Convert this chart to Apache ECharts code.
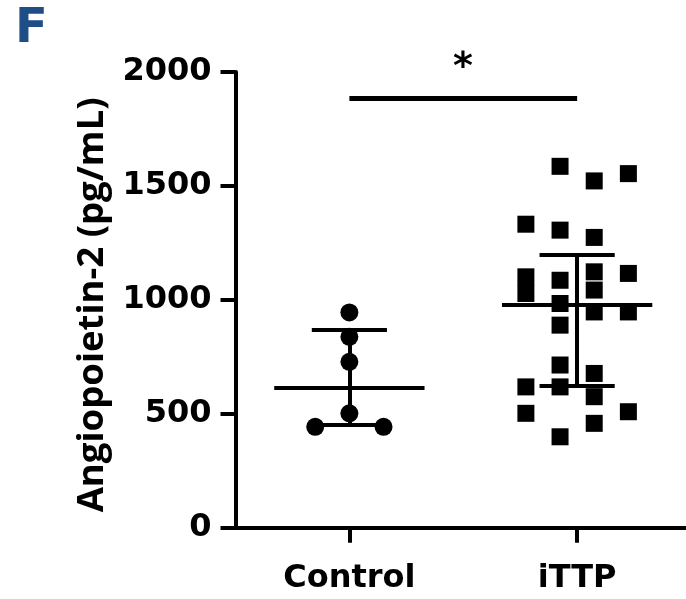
<!DOCTYPE html>
<html>
<head>
<meta charset="utf-8">
<script src="https://cdn.jsdelivr.net/npm/echarts@6/dist/echarts.min.js"></script>
<style>
html, body { margin: 0; padding: 0; background: #fff; }
#chart { width: 686px; height: 599px; }
</style>
</head>
<body>
<div id="chart"></div>
<script>
// groups (placed at x = 1, 2)
var categories = ['Control', 'iTTP']
var categoryPos = [1, 2]
// individual values (pg/mL) and their horizontal scatter offset inside the group
var controlValues = [945, 838, 728, 502, 443, 443]
var controlJitter = [0, 0, 0, 0, -0.15, 0.15]
var ittpValues = [1586, 1522, 1554, 1332, 1306, 1274, 1116, 1101, 1028, 1086, 1123, 1043, 984, 947, 947, 889, 714, 677, 618, 618, 575, 502, 509, 458, 399]
var ittpJitter = [-0.075, 0.075, 0.225, -0.225, -0.075, 0.075, 0.225, -0.225, -0.225, -0.075, 0.075, 0.075, -0.075, 0.075, 0.225, -0.075, -0.075, 0.075, -0.225, -0.075, 0.075, -0.225, 0.225, 0.075, -0.075]
// median with interquartile range: [q1, median, q3]
var controlIQR = [450, 616, 867]
var ittpIQR = [621, 977, 1200]
// significance bar
var sigLevel = 1886
var sigLabel = '*'

var chart = echarts.init(document.getElementById('chart'))

function points (values, jitter, x) {
  return values.map(function (v, i) {
    return [x + jitter[i], v]
  })
}

function iqrLines (stats, x) {
  return [
    { coords: [[x - 0.33, stats[1]], [x + 0.33, stats[1]]] },
    { coords: [[x - 0.165, stats[0]], [x + 0.165, stats[0]]] },
    { coords: [[x - 0.165, stats[2]], [x + 0.165, stats[2]]] },
    { coords: [[x, stats[0]], [x, stats[2]]] }
  ]
}

var labelFont = {
  fontFamily: 'DejaVu Sans',
  fontWeight: 'bold',
  fontSize: 32,
  color: '#000'
}

var option = {
  animation: false,
  backgroundColor: '#fff',
  grid: {
    left: 235.5,
    right: 0,
    top: 72,
    bottom: 71.3
  },
  graphic: [
    {
      type: 'text',
      left: 15,
      top: 6,
      style: {
        text: 'F',
        font: 'bold 48px "DejaVu Sans"',
        fill: '#1f4e86'
      }
    },
    {
      type: 'text',
      x: 463,
      y: 68,
      style: {
        text: sigLabel,
        font: 'bold 38px "DejaVu Sans"',
        fill: '#000',
        align: 'center',
        verticalAlign: 'middle'
      }
    }
  ],
  xAxis: {
    type: 'value',
    min: 0.5,
    max: 2.478,
    axisLine: { onZero: false, lineStyle: { color: '#000', width: 4 } },
    axisTick: { show: true, customValues: categoryPos, length: 15, lineStyle: { color: '#000', width: 4 } },
    axisLabel: Object.assign({
      margin: 35,
      customValues: categoryPos,
      formatter: function (v) { return categories[Math.round(v) - 1] }
    }, labelFont),
    splitLine: { show: false }
  },
  yAxis: {
    type: 'value',
    min: 0,
    max: 2000,
    interval: 500,
    name: 'Angiopoietin-2 (pg/mL)',
    nameLocation: 'middle',
    nameRotate: 90,
    nameGap: 124,
    nameMoveOverlap: false,
    nameTextStyle: {
      fontFamily: 'Open Sans',
      fontWeight: 'bold',
      fontSize: 36.5,
      color: '#000',
      padding: [0, 10, 0, 0]
    },
    axisLine: { show: true, onZero: false, lineStyle: { color: '#000', width: 4 } },
    axisTick: { show: true, length: 15, lineStyle: { color: '#000', width: 4 } },
    axisLabel: Object.assign({
      margin: 24,
      formatter: function (v) { return String(v) }
    }, labelFont),
    splitLine: { show: false }
  },
  series: [
    {
      name: 'Control',
      type: 'scatter',
      symbol: 'circle',
      symbolSize: 18,
      itemStyle: { color: '#000', opacity: 1 },
      data: points(controlValues, controlJitter, categoryPos[0])
    },
    {
      name: 'iTTP',
      type: 'scatter',
      symbol: 'rect',
      symbolSize: 17,
      itemStyle: { color: '#000', opacity: 1 },
      data: points(ittpValues, ittpJitter, categoryPos[1])
    },
    {
      name: 'IQR',
      type: 'lines',
      coordinateSystem: 'cartesian2d',
      z: 5,
      lineStyle: { color: '#000', width: 4, opacity: 1, curveness: 0 },
      data: iqrLines(controlIQR, categoryPos[0]).concat(iqrLines(ittpIQR, categoryPos[1]))
    },
    {
      name: 'sig',
      type: 'lines',
      coordinateSystem: 'cartesian2d',
      z: 5,
      lineStyle: { color: '#000', width: 5, opacity: 1, curveness: 0 },
      data: [{ coords: [[categoryPos[0], sigLevel], [categoryPos[1], sigLevel]] }]
    }
  ]
}

chart.setOption(option)
</script>
</body>
</html>
